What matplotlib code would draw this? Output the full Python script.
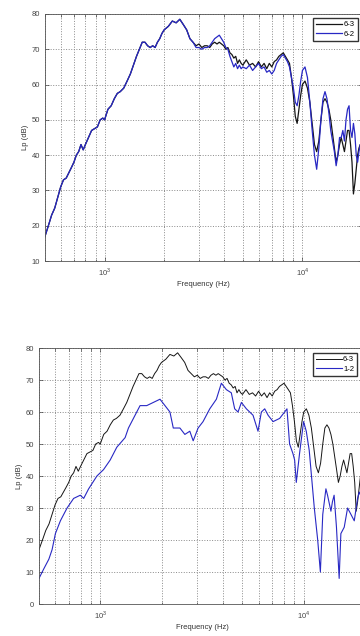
import numpy as np
import matplotlib
matplotlib.use('Agg')
import matplotlib.pyplot as plt
from matplotlib.ticker import LogLocator, NullFormatter, FixedLocator

plt.rcParams['font.family'] = ['Liberation Sans', 'DejaVu Sans']
plt.rcParams['mathtext.fontset'] = 'custom'
plt.rcParams['mathtext.rm'] = 'Liberation Sans'

# ── data (Hz, dB) ──
freq = [500, 520, 540, 560, 580, 600, 620, 640, 660, 680, 700, 720, 740, 760, 780,
        800, 830, 860, 890, 920, 950, 980, 1000, 1040, 1080, 1120, 1160, 1200, 1250,
        1300, 1350, 1400, 1450, 1500, 1550, 1600, 1650, 1700, 1750, 1800, 1850, 1900,
        1950, 2000, 2100, 2200, 2300, 2400, 2500, 2600, 2700, 2800, 2900, 3000, 3100,
        3200, 3300, 3400, 3500, 3600, 3700, 3800, 3900, 4000, 4100, 4200, 4300, 4400,
        4500, 4600, 4700, 4800, 4900, 5000, 5200, 5400, 5600, 5800, 6000, 6200, 6400,
        6600, 6800, 7000, 7200, 7400, 7600, 7800, 8000, 8200, 8400, 8600, 8800, 9000,
        9200, 9400, 9600, 9800, 10000, 10300, 10600, 10900, 11200, 11500, 11800, 12100,
        12400, 12700, 13000, 13300, 13600, 13900, 14200, 14500, 14800, 15100, 15400,
        15700, 16000, 16300, 16600, 16900, 17200, 17500, 17800, 18100, 18400, 18700,
        19000, 19300, 19600, 20000]

lp_63 = [17, 20, 23, 25, 28, 31, 33, 33.5, 35, 36.5, 38, 40, 41, 43, 41.5,
         43, 45, 47, 47.5, 48, 50, 50.5, 50, 53, 54, 56, 57.5, 58, 59,
         61, 63, 65.5, 68, 70, 72, 72, 71, 70.5, 71, 70.5, 72, 73,
         74.5, 75.5, 76.5, 78, 77.5, 78.5, 77, 75.5, 73, 72, 71, 71.5, 70.5,
         71, 71, 70.5, 71.5, 72, 71.5, 72, 71.5, 71, 70, 70.5, 69, 68.5,
         67.5, 68, 66, 67, 66, 65.5, 67, 65.5, 66, 65, 66.5, 65, 66,
         64.5, 66, 65, 66.5, 67, 68, 68.5, 69, 68, 67, 66, 62, 57,
         51, 49, 53, 57, 60, 61, 59, 55, 49, 43, 41, 44,
         50, 55, 56, 55, 53, 50, 46, 42, 38, 40, 43,
         45, 43, 41, 44, 47, 47, 43, 38, 29, 32, 36,
         40, 42, 43, 43]

lp_62 = [17, 20, 23, 25, 28, 31, 33, 33.5, 35, 36.5, 38, 40, 41, 43, 41.5,
         43, 45, 47, 47.5, 48, 50, 50.5, 50, 53, 54, 56, 57.5, 58, 59,
         61, 63, 65.5, 68, 70, 72, 72, 71, 70.5, 71, 70.5, 72, 73,
         74.5, 75.5, 76.5, 78, 77.5, 78.5, 77, 75.5, 73, 72, 70.5, 70.5, 70,
         70.5, 70.5, 71, 72, 73, 73.5, 74, 73, 72, 70.5, 70, 68, 66.5,
         65, 66, 64.5, 65.5, 64.5, 65, 64.5, 65.5, 64, 65, 66, 64.5, 65,
         63.5, 64, 63, 64, 66, 67, 68, 68.5, 67.5, 66.5, 65, 62, 59,
         55, 54, 57, 61, 64, 65, 62, 55, 47, 40, 36, 42,
         50, 56, 58, 56, 52, 47, 44, 41, 37, 40, 45,
         45, 47, 44, 50, 53, 54, 47, 45, 49, 46, 40,
         38, 41, 43, 42]

freq_12 = [500, 528, 559, 580, 602, 637, 687, 740, 798, 829, 877, 963, 1038, 1119,
           1206, 1325, 1376, 1483, 1569, 1692, 1824, 1966, 2080, 2200, 2285, 2463,
           2605, 2755, 2862, 3026, 3200, 3453, 3721, 3937, 4165, 4406, 4577, 4755,
           4939, 5225, 5633, 5960, 6190, 6430, 6680, 7066, 7611, 8053, 8270, 8520,
           8850, 9021, 9190, 9535, 9980, 10290, 10640, 11270, 11710, 12070, 12400,
           12850, 13090, 13600, 13840, 14100, 14480, 14930, 15220, 15810, 16420,
           17060, 17710, 18390, 18730, 19300, 20000]

lp_12 = [8, 11, 14, 17, 22, 26, 30, 33, 34, 33, 36, 40, 42, 45,
         49, 52, 55, 59, 62, 62, 63, 64, 62, 60, 55, 55,
         53, 54, 51, 55, 57, 61, 64, 69, 67, 66, 61, 60,
         63, 61, 59, 54, 60, 61, 59, 57, 58, 60, 61, 50,
         47, 45, 38, 47, 57, 54, 48, 30, 20, 10, 28,
         36, 34, 29, 32, 34, 24, 8, 22, 24, 30,
         28, 26, 33, 35, 33, 32]

BLACK = '#151515'
BLUE = '#2828c4'
GRID = '#8a8a8a'


def style_axes(ax, ylim, yticks):
    ax.set_xscale('log')
    ax.set_xlim(500, 20000)
    ax.set_ylim(*ylim)
    ax.set_yticks(yticks)
    ax.xaxis.set_major_locator(FixedLocator([1e3, 1e4]))
    ax.xaxis.set_minor_locator(LogLocator(base=10, subs=np.arange(2, 10)))
    ax.xaxis.set_minor_formatter(NullFormatter())
    ax.set_xticklabels([r'$10^3$', r'$10^4$'])
    ax.tick_params(which='both', direction='in', top=True, right=True,
                   labelsize=5.5, colors='#444444', width=0.5)
    ax.tick_params(which='major', length=3)
    ax.tick_params(which='minor', length=1.8)
    ax.grid(which='major', linestyle=':', color=GRID, linewidth=0.7)
    ax.grid(which='minor', axis='x', linestyle=':', color=GRID, linewidth=0.7)
    for s in ax.spines.values():
        s.set_linewidth(0.6)
        s.set_color('#555555')
    ax.set_xlabel('Frequency (Hz)', fontsize=5.5, labelpad=2, color='#333333')
    ax.set_ylabel('Lp (dB)', fontsize=5.5, labelpad=2, color='#333333')


fig = plt.figure(figsize=(3.6, 6.36), dpi=100)

# ── top panel: 6-3 vs 6-2 ──
ax1 = fig.add_axes([0.125, 0.5896, 0.8806, 0.3884])
ax1.plot(freq, lp_63, color=BLACK, linewidth=0.9, label='6-3')
ax1.plot(freq, lp_62, color=BLUE, linewidth=0.9, label='6-2')
style_axes(ax1, (10, 80), np.arange(10, 81, 10))
ax1.legend(loc='upper right', bbox_to_anchor=(0.994, 0.9717),
           bbox_transform=fig.transFigure, fontsize=5.5, handlelength=3.4,
           fancybox=False, edgecolor='#333333', framealpha=1,
           borderpad=0.4, labelspacing=0.3, handletextpad=0.2, borderaxespad=0)

# ── bottom panel: 6-3 vs 1-2 ──
ax2 = fig.add_axes([0.1083, 0.0503, 0.9056, 0.4025])
ax2.plot(freq, lp_63, color=BLACK, linewidth=0.7, label='6-3')
ax2.plot(freq_12, lp_12, color=BLUE, linewidth=0.8, label='1-2')
style_axes(ax2, (0, 80), np.arange(0, 81, 10))
ax2.legend(loc='upper right', bbox_to_anchor=(0.992, 0.445),
           bbox_transform=fig.transFigure, fontsize=5.5, handlelength=3.4,
           fancybox=False, edgecolor='#333333', framealpha=1,
           borderpad=0.4, labelspacing=0.3, handletextpad=0.2, borderaxespad=0)

fig.savefig('out.png', dpi=100)
